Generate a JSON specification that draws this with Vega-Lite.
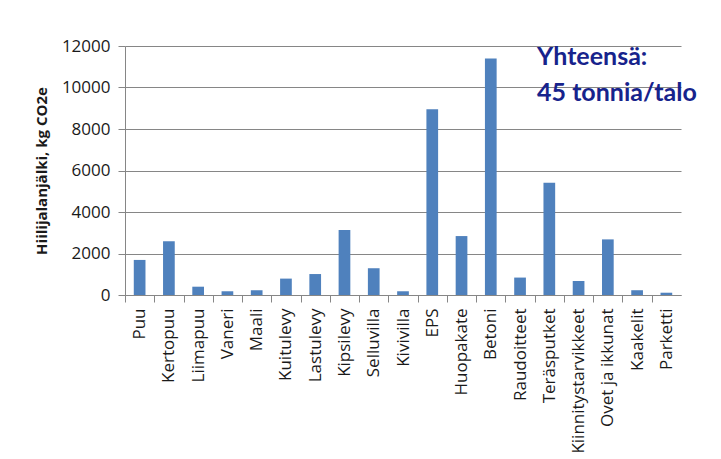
{
  "$schema": "https://vega.github.io/schema/vega-lite/v6.json",
  "autosize": {"type": "none"},
  "width": 556,
  "height": 249,
  "padding": {"left": 125, "top": 46, "right": 40, "bottom": 164},
  "background": "white",
  "config": {
    "view": {"stroke": null},
    "font": "Open Sans"
  },
  "layer": [
    {
      "data": {
        "values": [
          {"material": "Puu", "co2": 1690},
          {"material": "Kertopuu", "co2": 2590},
          {"material": "Liimapuu", "co2": 400},
          {"material": "Vaneri", "co2": 180},
          {"material": "Maali", "co2": 230},
          {"material": "Kuitulevy", "co2": 790},
          {"material": "Lastulevy", "co2": 1010},
          {"material": "Kipsilevy", "co2": 3130},
          {"material": "Selluvilla", "co2": 1290},
          {"material": "Kivivilla", "co2": 180},
          {"material": "EPS", "co2": 8950},
          {"material": "Huopakate", "co2": 2840},
          {"material": "Betoni", "co2": 11400},
          {"material": "Raudoitteet", "co2": 840},
          {"material": "Teräsputket", "co2": 5410},
          {"material": "Kiinnitystarvikkeet", "co2": 675},
          {"material": "Ovet ja ikkunat", "co2": 2680},
          {"material": "Kaakelit", "co2": 230},
          {"material": "Parketti", "co2": 110}
        ]
      },
      "mark": {"type": "bar", "color": "#4F81BD"},
      "encoding": {
        "x": {
          "field": "material",
          "type": "nominal",
          "sort": null,
          "scale": {"paddingInner": 0.6, "paddingOuter": 0.3},
          "axis": {
            "title": null,
            "labelAngle": -90,
            "labelFontSize": 17,
            "labelColor": "#1a1a1a",
            "labelPadding": 6,
            "tickOffset": -14.63,
            "labelOffset": 14.63,
            "tickSize": 7,
            "tickColor": "#868686",
            "domainColor": "#868686",
            "grid": false
          }
        },
        "y": {
          "field": "co2",
          "type": "quantitative",
          "scale": {"domain": [0, 12000]},
          "axis": {
            "title": "Hiilijalanjälki,  kg CO2e",
            "titleFontSize": 15,
            "titleFontWeight": "bold",
            "titleColor": "#1a1a1a",
            "titlePadding": 12,
            "values": [0, 2000, 4000, 6000, 8000, 10000, 12000],
            "format": "d",
            "labelFontSize": 17,
            "labelColor": "#1a1a1a",
            "labelPadding": 8,
            "tickSize": 7,
            "tickColor": "#868686",
            "domainColor": "#868686",
            "gridColor": "#868686",
            "gridWidth": 1
          }
        }
      }
    },
    {
      "data": {
        "values": [
          {"label": "Yhteensä:", "pos": 11470},
          {"label": "45 tonnia/talo", "pos": 9735}
        ]
      },
      "mark": {
        "type": "text",
        "align": "left",
        "baseline": "middle",
        "fontSize": 25,
        "fontWeight": "bold",
        "font": "Lato",
        "color": "#17238C",
        "dx": 17
      },
      "encoding": {
        "x": {"datum": "Raudoitteet", "type": "nominal"},
        "y": {"field": "pos", "type": "quantitative"},
        "text": {"field": "label"}
      }
    }
  ]
}
